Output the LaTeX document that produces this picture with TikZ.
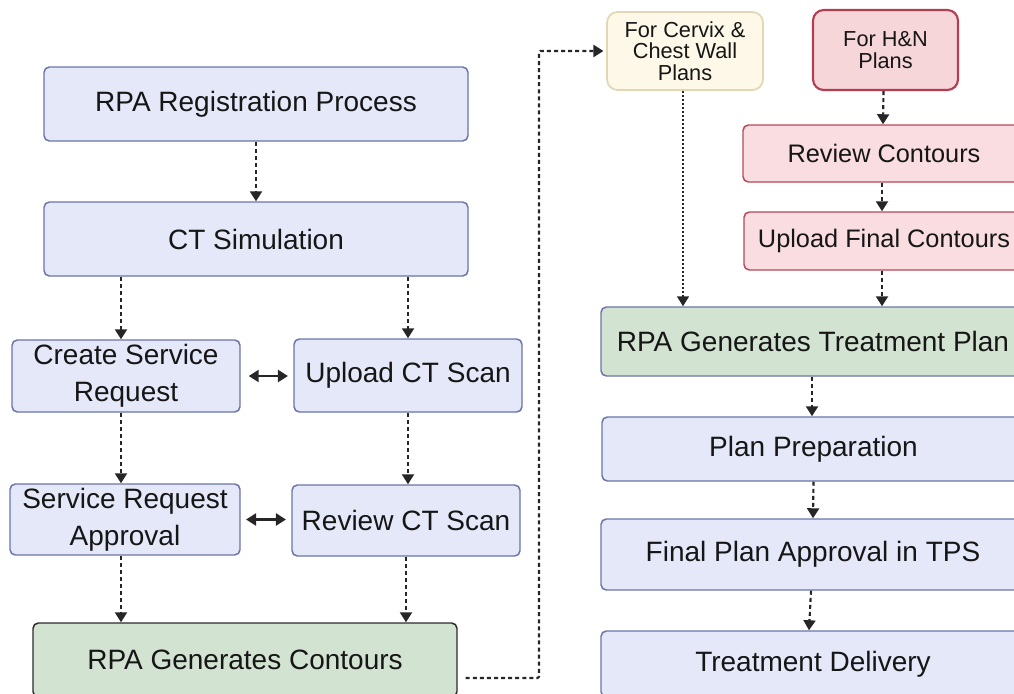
\documentclass[tikz,border=0pt]{standalone}
\usepackage{fontspec}
\setmainfont{Liberation Sans}
\usetikzlibrary{arrows.meta,calc}

\definecolor{bluefill}{HTML}{E4E8F9}
\definecolor{blueline}{HTML}{6B74A8}
\definecolor{greenfill}{HTML}{D3E3D1}
\definecolor{darkline}{HTML}{2B2B2B}
\definecolor{pinkfill}{HTML}{F9DDE0}
\definecolor{pinkline}{HTML}{B5485A}
\definecolor{hnfill}{HTML}{F7D6D9}
\definecolor{hnline}{HTML}{B23E52}
\definecolor{creamfill}{HTML}{FDF8E7}
\definecolor{creamline}{HTML}{E2D7B4}
\definecolor{ink}{HTML}{161616}
\definecolor{arrowink}{HTML}{262626}

\tikzset{
  sz/.style 2 args={minimum width=#1*0.75pt, minimum height=#2*0.75pt},
  box/.style={draw=blueline, fill=bluefill, line width=1.1pt, rounded corners=4pt,
    text=ink, align=center, inner sep=0pt, font=\fontsize{21}{28}\selectfont},
  greenbox/.style={box, fill=greenfill},
  pinkbox/.style={box, draw=pinkline, fill=pinkfill, font=\fontsize{19}{22}\selectfont},
  hnbox/.style={box, draw=hnline, fill=hnfill, line width=1.6pt, rounded corners=8pt,
    font=\fontsize{16.3}{16.5}\selectfont},
  creambox/.style={box, draw=creamline, fill=creamfill, line width=1.3pt, rounded corners=8pt,
    font=\fontsize{16.3}{16}\selectfont},
  flow/.style={draw=arrowink, line width=1.6pt, dash pattern=on 3pt off 2.3pt,
    -{Triangle[width=9pt,length=7.5pt]}},
  fineflow/.style={flow, line width=1.3pt, dash pattern=on 1.6pt off 1.4pt},
  twoway/.style={draw=arrowink, line width=1.7pt,
    {Triangle[width=9pt,length=7.5pt]}-{Triangle[width=9pt,length=7.5pt]}},
}

\begin{document}
\begin{tikzpicture}[x=0.75pt, y=-0.75pt]
  \useasboundingbox (0,0) rectangle (1014,693);
  \clip (0,0) rectangle (1014,693);

  % left column
  \node[box, sz={424}{74}] (reg) at (256,104) {RPA Registration Process};
  \node[box, sz={424}{74}] (ctsim) at (256,239) {CT Simulation};
  \node[box, sz={228}{72}] (csr) at (126,376) {Create Service\\Request};
  \node[box, sz={228}{73}] (upct) at (408,375.5) {Upload CT Scan};
  \node[box, sz={230}{71}] (sra) at (125,519.5) {Service Request\\Approval};
  \node[box, sz={228}{71}] (rvct) at (406,520.5) {Review CT Scan};
  \node[greenbox, draw=darkline, sz={424}{74}] (cont) at (245,660) {RPA Generates Contours};

  % right column
  \node[creambox, sz={156}{78}] (cervix) at (685,51) {For Cervix \&\\Chest Wall\\Plans};
  \node[hnbox, sz={145}{80}] (hn) at (885.5,50) {For H\&N\\Plans};
  \node[pinkbox, sz={282}{57}] (revc) at (884,153.5) {Review Contours};
  \node[pinkbox, sz={280}{58}] (upfc) at (884,241) {Upload Final Contours};
  \node[greenbox, sz={424}{69}] (rpatp) at (813,341.5) {RPA Generates Treatment Plan};
  \node[box, sz={423}{64}] (prep) at (813.5,449) {Plan Preparation};
  \node[box, sz={424}{71}] (final) at (813,554.5) {Final Plan Approval in TPS};
  \node[box, sz={424}{66}] (deliv) at (813,664) {Treatment Delivery};

  % connectors, left column
  \draw[flow] (reg.south) -- (ctsim.north);
  \draw[flow] ($(ctsim.south -| csr.north)+(-5,0)$) -- ($(csr.north)+(-5,0)$);
  \draw[flow] (ctsim.south -| upct.north) -- (upct.north);
  \draw[flow] ($(csr.south)+(-5,0)$) -- ($(sra.north)+(-4,0)$);
  \draw[flow] (upct.south) -- ($(rvct.north)+(2,0)$);
  \draw[flow] ($(sra.south)+(-4,0)$) -- ($(cont.north -| sra.south)+(-4,0)$);
  \draw[flow] (rvct.south) -- (cont.north -| rvct.south);
  \draw[twoway, shorten <=6pt, shorten >=4pt] (csr.east) -- (csr.east -| upct.west);
  \draw[twoway, shorten <=4pt, shorten >=4pt] (sra.east) -- (sra.east -| rvct.west);

  % link from contours to the plan branches
  \coordinate (linkA) at ($(cont.east)+(8,18)$);
  \coordinate (linkB) at (539,678);
  \coordinate (linkC) at (539,51);
  \draw[flow, rounded corners=1pt, shorten >=2pt] (linkA) -- (linkB) -- (linkC) -- (cervix.west);

  % connectors, right column
  \draw[flow] ($(hn.south)+(-2,0)$) -- ($(revc.north)+(-1,0)$);
  \draw[flow] ($(revc.south)+(-2,0)$) -- ($(upfc.north)+(-2,0)$);
  \draw[fineflow] ($(cervix.south)+(-2,0)$) -- (rpatp.north -| 683,0);
  \draw[flow] ($(upfc.south)+(-2,0)$) -- (rpatp.north -| 882,0);
  \draw[flow] ($(rpatp.south)+(-1,0)$) -- ($(prep.north)+(-1.5,0)$);
  \draw[flow] (prep.south) -- (final.north);
  \draw[flow] ($(final.south)+(-2,0)$) -- ($(deliv.north)+(-4,0)$);
\end{tikzpicture}
\end{document}
